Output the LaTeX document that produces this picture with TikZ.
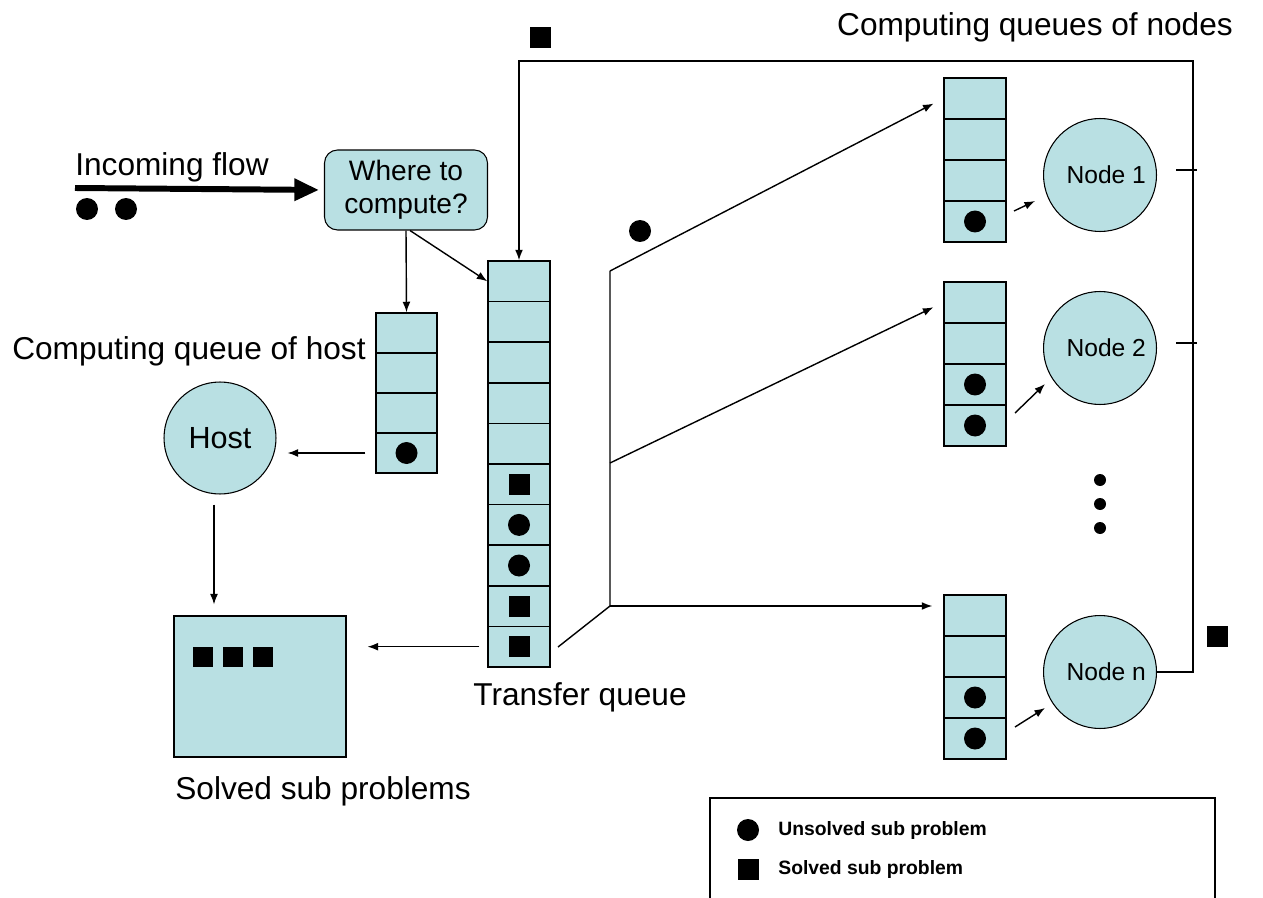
\documentclass[tikz,border=0pt]{standalone}
\usepackage{fontspec}
\setmainfont{Liberation Sans}
\usepackage{xcolor}
\definecolor{queue_cyan}{RGB}{185,224,227}
\usetikzlibrary{arrows.meta}
\tikzset{
  cell/.style={draw, fill=queue_cyan, line width=0.8pt, minimum width=1.24cm, minimum height=0.81cm, inner sep=0pt},
  proc/.style={draw, circle, fill=queue_cyan, line width=0.6pt, minimum size=2.26cm, inner sep=0pt},
  dot/.style={circle, fill=black, minimum size=0.44cm, inner sep=0pt},
  sq/.style={fill=black, minimum size=0.42cm, inner sep=0pt},
  arr/.style={line width=0.8pt, -{Latex[length=6pt,width=4.5pt]}},
  lbl/.style={font=\fontsize{18}{21}\selectfont, inner sep=0pt},
  legtext/.style={font=\fontsize{11}{13}\selectfont\bfseries, inner sep=0pt, anchor=west},
}

\begin{document}
\begin{tikzpicture}[x=0.02cm, y=-0.02cm]
\useasboundingbox (0,0) rectangle (1263,898);

\node[lbl, anchor=west] (inlabel) at (75,167) {Incoming flow};
\node[draw, fill=queue_cyan, rounded corners=0.26cm, line width=0.6pt, minimum width=3.26cm, minimum height=1.6cm, align=center, font=\fontsize{16}{19}\selectfont] (where) at (406,190) {Where to\\compute?};
\coordinate (inflow) at (75,188);
\draw[line width=3.4pt, shorten >=0.1cm, -{Triangle[length=14pt,width=12pt]}] (inflow) -- (where.west);
\node[dot] (in1) at (87,209) {};
\node[dot] (in2) at (126,209) {};

\foreach \i in {1,...,4}
  \node[cell, minimum width=1.22cm, minimum height=0.8cm] (hq\i) at (406.5,{313+40*(\i-0.5)}) {};
\node[dot] (hqd4) at (hq4) {};

\foreach \i in {1,...,10}
  \node[cell, minimum height=0.812cm] (tq\i) at (519,{261+40.6*(\i-0.5)}) {};
\foreach \i/\s in {6/sq,7/dot,8/dot,9/sq,10/sq}
  \node[\s] (tqm\i) at (tq\i) {};

\foreach \q/\top in {qa/78,qb/282,qn/595}
  \foreach \i in {1,...,4}
    \node[cell, minimum height=0.82cm] (\q\i) at (975,{\top+41*(\i-0.5)}) {};
\node[dot] (qad4) at (qa4) {};
\node[dot] (qbd3) at (qb3) {};
\node[dot] (qbd4) at (qb4) {};
\node[dot] (qnd3) at (qn3) {};
\node[dot] (qnd4) at (qn4) {};

\node[proc, font=\fontsize{14}{16}\selectfont] (node1) at (1100,175) {\hspace*{0.25cm}Node 1};
\node[proc, font=\fontsize{14}{16}\selectfont] (node2) at (1100,348) {\hspace*{0.25cm}Node 2};
\node[proc, font=\fontsize{14}{16}\selectfont] (noden) at (1100,672) {\hspace*{0.25cm}Node n};
\node[proc, minimum size=2.24cm, font=\fontsize{17.4}{20}\selectfont] (host) at (220,438) {Host};

\node[draw, fill=queue_cyan, line width=0.6pt, minimum width=3.44cm, minimum height=2.82cm] (solved) at (260,686.5) {};
\foreach \i/\x in {1/203,2/233,3/263}
  \node[sq, minimum size=0.4cm] (sol\i) at (\x,657) {};

\node[lbl, anchor=east] (hostqlabel) at (366,351) {Computing queue of host};
\node[lbl] (tqlabel) at (580,697) {Transfer queue};
\node[lbl, anchor=west] (sollabel) at (175,791) {Solved sub problems};
\node[lbl] (nodeqlabel) at (1035,27) {Computing queues of nodes};

\draw[arr] (where.south) -- (hq1.north);
\draw[arr] ([xshift=0.08cm]where.south) -- (tq1.west);
\draw[arr, shorten <=0.2cm, shorten >=0.22cm] (hq4.west) -- (hq4.west -| host.east);
\draw[arr, shorten <=0.2cm, shorten >=0.22cm] ([xshift=-0.12cm]host.south) -- ([xshift=-0.12cm]host.south |- solved.north);
\draw[arr, shorten <=0.16cm, shorten >=0.42cm] (tq10.west) -- (tq10.west -| solved.east);

\coordinate (fanfoot) at (558,647);
\coordinate (fantop) at (610,271);
\coordinate (fanmid) at (610,463);
\coordinate (fanbot) at (610,606);
\draw[line width=0.8pt] (fanfoot) -- (fanbot) -- (fantop);
\draw[arr, shorten >=0.22cm] (fantop) -- (qa1.west);
\draw[arr, shorten >=0.22cm] (fanmid) -- (qb1.west);
\draw[arr, shorten >=0.22cm] (fanbot) -- (fanbot -| qn1.west);
\node[dot] (unsolvedtop) at (640,231) {};

\coordinate (loopr) at (1193,61);
\coordinate (loopl) at (519,61);
\draw[arr] (noden.east) -| (loopr) -- (loopl) -- (tq1.north);
\node[sq] (solvedtop) at (540,38) {};
\node[sq] (solvedright) at (1217,636) {};
\draw[line width=0.8pt] (1176,170) -- (1197,170);
\draw[line width=0.8pt] (1176,343) -- (1197,343);

\coordinate (fa) at (1014,211);
\coordinate (ta) at (1035,201);
\coordinate (fb) at (1015,413);
\coordinate (tb) at (1045,384);
\coordinate (fn) at (1015,727);
\coordinate (tn) at (1045,708);
\draw[arr] (fa) -- (ta);
\draw[arr] (fb) -- (tb);
\draw[arr] (fn) -- (tn);

\foreach \y [count=\k] in {480,504,528}
  \node[dot, minimum size=0.24cm] (vdot\k) at (1100,\y) {};

\draw[line width=0.8pt] (710,898) -- (710,798) -- (1215,798) -- (1215,898);
\node[dot] (legdot) at (748,830) {};
\node[sq] (legsq) at (748,869) {};
\node[legtext] (legun) at (778,830) {Unsolved sub problem};
\node[legtext] (legso) at (778,869) {Solved sub problem};
\end{tikzpicture}
\end{document}
